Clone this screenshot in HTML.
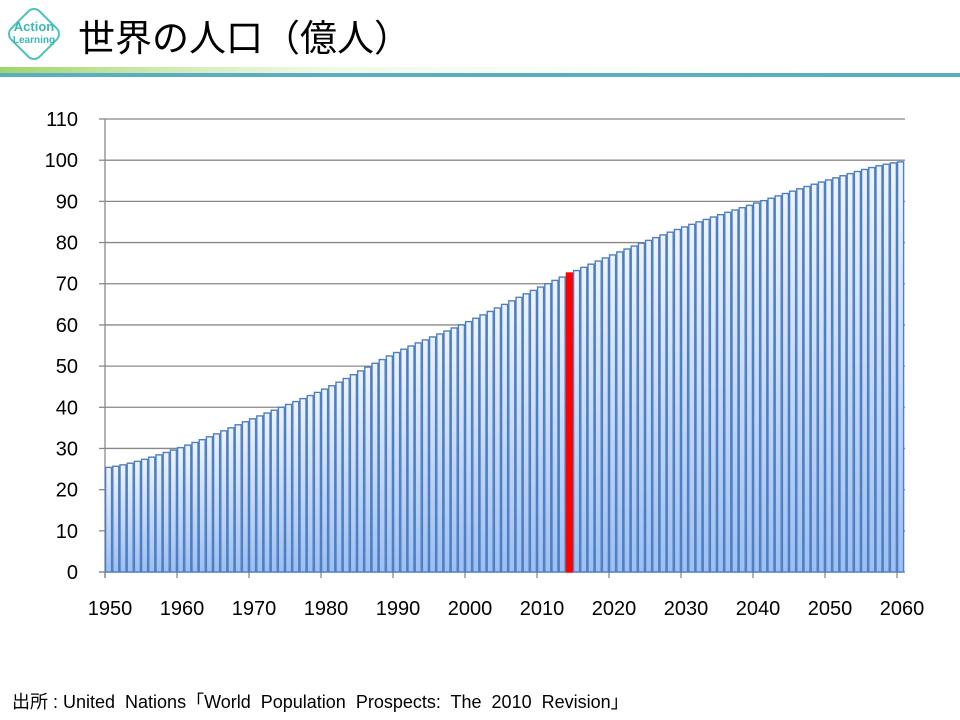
<!DOCTYPE html>
<html><head><meta charset="utf-8"><style>
body{margin:0;width:960px;height:720px;background:#fff;position:relative;overflow:hidden;font-family:"Liberation Sans","Noto Sans CJK JP",sans-serif}
.t{position:absolute;left:78px;top:10px;font-size:37px;color:#000;font-family:"Noto Sans CJK JP",sans-serif;line-height:50px}
.f{position:absolute;left:12px;top:688px;font-size:18px;color:#000}
</style></head><body>
<svg width="960" height="720" style="position:absolute;left:0;top:0">
<defs>
<linearGradient id="g" x1="0" y1="0" x2="0" y2="1"><stop offset="0" stop-color="#eef4fd"/><stop offset="1" stop-color="#9dbff3"/></linearGradient>
<linearGradient id="hg" x1="0" y1="0" x2="1" y2="0"><stop offset="0" stop-color="#9fd46a"/><stop offset="0.35" stop-color="#e8f5d8" stop-opacity="0.6"/><stop offset="1" stop-color="#fff" stop-opacity="0"/></linearGradient>
</defs>
<rect x="0" y="67" width="960" height="7" fill="url(#hg)"/>
<rect x="0" y="73" width="960" height="4" fill="#5aaec4"/>
<g transform="translate(34,34) rotate(45)">
<rect x="-20" y="-20" width="40" height="40" rx="8" fill="#fff" stroke="#4cc4bb" stroke-width="2"/>
</g>
<text x="34" y="31" font-size="13" fill="#3bb8b0" text-anchor="middle" font-family="Liberation Sans" font-weight="bold">Action</text>
<text x="34" y="43" font-size="10" fill="#3bb8b0" text-anchor="middle" font-family="Liberation Sans" font-weight="bold">Learning</text>
<g id="grid" stroke="#888" stroke-width="1.3"></g>
<g id="bars"></g>
<g id="lab" font-family="Liberation Sans" font-size="20" fill="#000"></g>
</svg>
<div class="t">世界の人口（億人）</div>
<div class="f">出所 : United&nbsp; Nations「World&nbsp; Population&nbsp; Prospects:&nbsp; The&nbsp; 2010&nbsp; Revision」</div>
<script>
var ns="http://www.w3.org/2000/svg";
function el(p,t,a){var e=document.createElementNS(ns,t);for(var k in a)e.setAttribute(k,a[k]);p.appendChild(e);return e;}
var x0=105,step=7.2,y0=572,py=4.118;
var grid=document.getElementById('grid'),lab=document.getElementById('lab'),bars=document.getElementById('bars');
for(var i=1;i<=11;i++){var y=y0-i*10*py;el(grid,'line',{x1:x0,x2:905,y1:y,y2:y});}
for(i=0;i<=11;i++){var t=el(lab,'text',{x:78,y:y0-i*10*py+7,'text-anchor':'end'});t.textContent=i*10;}
for(i=0;i<=11;i++){var t=el(lab,'text',{x:x0+i*72+5,y:615,'text-anchor':'middle'});t.textContent=1950+i*10;}
var k=[25.4,30.2,37.2,44.4,53.3,60.8,69.2,77.0,83.8,89.6,95.2,99.6];
function v(yr){var d=(yr-1950)/10,i=Math.floor(d);if(i>=11)return k[11];var f=d-i;
var p0=k[Math.max(i-1,0)],p1=k[i],p2=k[i+1],p3=k[Math.min(i+2,11)];
return 0.5*((2*p1)+(-p0+p2)*f+(2*p0-5*p1+4*p2-p3)*f*f+(-p0+3*p1-3*p2+p3)*f*f*f);}
for(var yr=1950;yr<=2060;yr++){var val=v(yr);if(yr==2014)val=72.6;var h=val*py,x=x0+(yr-1950)*step;
el(bars,'rect',{x:x+0.6,y:y0-h,width:step-1.2,height:h,fill:yr==2014?'#ff0000':'url(#g)',stroke:yr==2014?'#ff0000':'#4f7fc0','stroke-width':1.4});}
el(grid,'line',{x1:x0,x2:x0,y1:119,y2:y0+6});
el(grid,'line',{x1:x0-6,x2:905,y1:y0,y2:y0});
for(i=0;i<=11;i++)el(grid,'line',{x1:x0+i*72,x2:x0+i*72,y1:y0,y2:y0+6});
for(i=0;i<=11;i++)el(grid,'line',{x1:x0-6,x2:x0,y1:y0-i*10*py,y2:y0-i*10*py});
</script>
</body></html>
